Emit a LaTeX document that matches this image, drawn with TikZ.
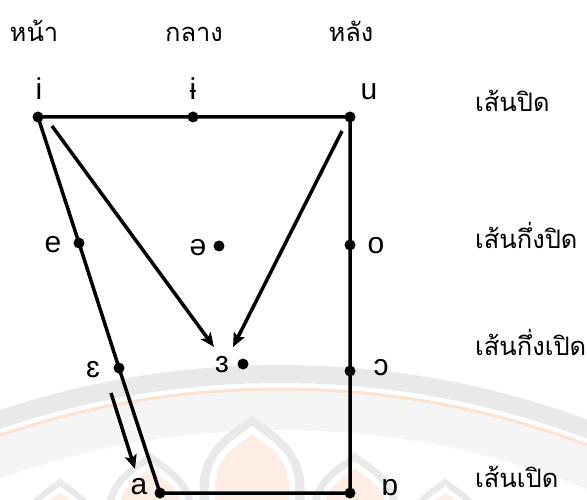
\documentclass[tikz,border=0pt]{standalone}
\usepackage{fontspec}
\setmainfont{Liberation Sans}
\newfontfamily\thaifont[Script=Thai]{Loma}
\usetikzlibrary{arrows.meta}
\definecolor{wmgray}{RGB}{233,233,233}
\definecolor{wmlight}{RGB}{245,245,245}
\definecolor{wmorange}{RGB}{252,226,208}
\definecolor{wmpink}{RGB}{253,237,229}
\newcommand\wmdome[3]{%
  \begin{scope}[shift={(#1,#2)},scale=#3]
    \fill[wmgray] (0,0) .. controls (8,10) and (50,25) .. (50,70) -- (50,140) -- (-50,140) -- (-50,70) .. controls (-50,25) and (-8,10) .. cycle;
    \begin{scope}[shift={(0,10)},scale=0.82]
      \fill[white] (0,0) .. controls (8,10) and (50,25) .. (50,70) -- (50,140) -- (-50,140) -- (-50,70) .. controls (-50,25) and (-8,10) .. cycle;
    \end{scope}
    \begin{scope}[shift={(0,18)},scale=0.7]
      \fill[wmpink] (0,0) .. controls (8,10) and (50,25) .. (50,70) -- (50,160) -- (-50,160) -- (-50,70) .. controls (-50,25) and (-8,10) .. cycle;
    \end{scope}
  \end{scope}}
\begin{document}
\begin{tikzpicture}[x=1pt,y=-1pt,
  vdot/.style={circle,fill=black,inner sep=0pt,minimum size=11pt},
  frame/.style={line width=3.5pt,line join=round},
  arr/.style={line width=3.5pt,-{Stealth[length=14pt,width=12pt,inset=3pt]}},
  ipa/.style={font=\fontsize{30}{30}\selectfont,anchor=base,inner sep=0pt},
  th/.style={font=\thaifont\fontsize{25.5}{25.5}\selectfont,anchor=base,inner sep=0pt},
  thr/.style={th,anchor=base west}]
\useasboundingbox (0,0) rectangle (587,500);
% watermark
\begin{scope}
  \clip (0,0) rectangle (587,500);
  \draw[wmlight,line width=40pt] (280,1255) circle[radius=845];
  \draw[wmgray,line width=18pt] (280,1255) circle[radius=881];
  \draw[wmorange,line width=3pt] (280,1255) circle[radius=866];
  \wmdome{60}{478}{0.8}
  \wmdome{445}{478}{0.8}
  \wmdome{150}{452}{0.9}
  \wmdome{355}{452}{0.9}
  \wmdome{252}{415}{1.05}
\end{scope}
% vowel points
\node[vdot] (i) at (38,117) {};
\node[vdot] (ib) at (193,117) {};
\node[vdot] (u) at (350,117) {};
\node[vdot] (e) at (79,243) {};
\node[vdot] (schwa) at (219,246) {};
\node[vdot] (o) at (350,245) {};
\node[vdot] (eps) at (119,368) {};
\node[vdot] (rev) at (243,364) {};
\node[vdot] (oo) at (350,371) {};
\node[vdot] (a) at (160,493) {};
\node[vdot] (ba) at (350,493) {};
\draw[frame] (i.center) -- (ib.center) -- (u.center) -- (o.center) -- (oo.center) -- (ba.center) -- (a.center) -- (eps.center) -- (e.center) -- cycle;
% arrows
\coordinate (a1s) at (52,126);
\coordinate (a1e) at (214,347);
\coordinate (a2s) at (342,131);
\coordinate (a2e) at (233,347);
\coordinate (a3s) at (111,393);
\coordinate (a3e) at (135,469);
\draw[arr] (a1s) -- (a1e);
\draw[arr] (a2s) -- (a2e);
\draw[arr] (a3s) -- (a3e);
% IPA labels
\node[ipa] (li) at (39,100) {i};
\node[ipa] (lib) at (193,100) {ɨ};
\node[ipa] (lu) at (369,100) {u};
\node[ipa] (le) at (53,252) {e};
\node[ipa] (lschwa) at (198,255) {ə};
\node[ipa] (lo) at (376,254) {o};
\node[ipa] (leps) at (93,377) {ɛ};
\node[ipa] (lrev) at (222,372) {ɜ};
\node[ipa] (loo) at (381,375) {ɔ};
\node[ipa] (la) at (139,494) {a};
\node[ipa] (lba) at (390,495) {ɒ};
% Thai labels
\node[th] (front) at (34,42) {หน้า};
\node[th] (central) at (194,42) {กลาง};
\node[th] (back) at (351,42) {หลัง};
\node[thr] (close) at (475,112) {เส้นปิด};
\node[thr] (closemid) at (475,248) {เส้นกึ่งปิด};
\node[thr] (openmid) at (475,355) {เส้นกึ่งเปิด};
\node[thr] (open) at (475,487) {เส้นเปิด};
\end{tikzpicture}
\end{document}
